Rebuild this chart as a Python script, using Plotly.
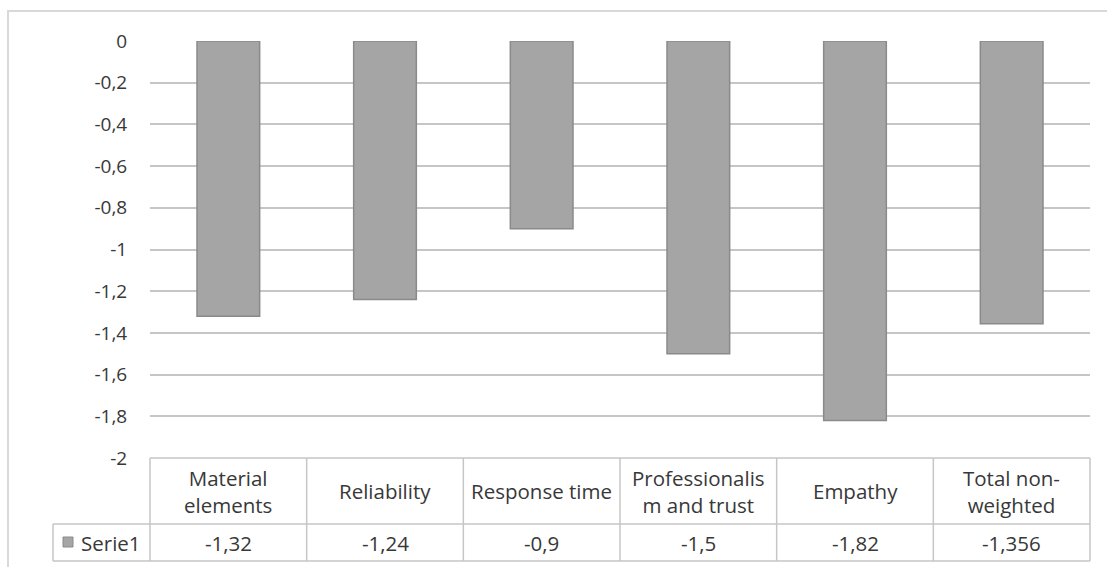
import plotly.graph_objects as go

categories = ["Material elements", "Reliability", "Response time",
              "Professionalism and trust", "Empathy", "Total non-weighted"]
header_labels = ["Material<br>elements", "Reliability", "Response time",
                 "Professionalis<br>m and trust", "Empathy", "Total non-<br>weighted"]
series_name = "Serie1"
values = [-1.32, -1.24, -0.9, -1.5, -1.82, -1.356]
value_labels = ["-1,32", "-1,24", "-0,9", "-1,5", "-1,82", "-1,356"]
tick_vals = [0, -0.2, -0.4, -0.6, -0.8, -1, -1.2, -1.4, -1.6, -1.8, -2]
tick_text = ["0", "-0,2", "-0,4", "-0,6", "-0,8", "-1", "-1,2", "-1,4", "-1,6", "-1,8", "-2"]

W, H = 1107, 567
L, R, T, B = 150, 1090, 41, 458
FONT = "Open Sans"
TXT = "#383838"
LINE = "#c6c6c6"
TICK_SIZE = 19
TABLE_SIZE = 20.5

def px(xp):
    return (xp - L) / (R - L)

def py(yp):
    return (B - yp) / (B - T)

fig = go.Figure()
fig.add_trace(go.Bar(
    x=categories, y=values, name=series_name,
    marker=dict(color="#a5a5a5", line=dict(color="#8a8a8a", width=1.5)),
    showlegend=False,
))

shapes = []
# outer chart border
shapes.append(dict(type="rect", xref="paper", yref="paper",
                   x0=px(8), x1=px(1120), y0=py(600), y1=py(11),
                   line=dict(color="#d9d9d9", width=2), layer="below"))
# table horizontal lines
row1, row2 = 524, 561
for yy, x0 in [(B, L), (row1, 53), (row2, 53)]:
    shapes.append(dict(type="line", xref="paper", yref="paper",
                       x0=px(x0), x1=px(R), y0=py(yy), y1=py(yy),
                       line=dict(color=LINE, width=1.5)))
# vertical lines
n = len(categories)
for i in range(n + 1):
    xx = L + (R - L) * i / n
    shapes.append(dict(type="line", xref="paper", yref="paper",
                       x0=px(xx), x1=px(xx), y0=py(B), y1=py(row2),
                       line=dict(color=LINE, width=1.5)))
shapes.append(dict(type="line", xref="paper", yref="paper",
                   x0=px(53), x1=px(53), y0=py(row1), y1=py(row2),
                   line=dict(color=LINE, width=1.5)))
# legend key
shapes.append(dict(type="rect", xref="paper", yref="paper",
                   x0=px(63), x1=px(73), y0=py(547), y1=py(537),
                   fillcolor="#a5a5a5", line=dict(color="#8a8a8a", width=1)))

annotations = []
for cat, hl, vl in zip(categories, header_labels, value_labels):
    annotations.append(dict(x=cat, xref="x", y=py((B + row1) / 2), yref="paper",
                            text=hl, showarrow=False, xanchor="center", yanchor="middle",
                            font=dict(family=FONT, size=TABLE_SIZE, color=TXT)))
    annotations.append(dict(x=cat, xref="x", y=py((row1 + row2) / 2), yref="paper",
                            text=vl, showarrow=False, xanchor="center", yanchor="middle",
                            font=dict(family=FONT, size=TABLE_SIZE, color=TXT)))
annotations.append(dict(x=px(79), xref="paper", y=py((row1 + row2) / 2), yref="paper",
                        text=series_name, showarrow=False, xanchor="left", yanchor="middle",
                        font=dict(family=FONT, size=TABLE_SIZE, color=TXT)))

fig.update_layout(
    width=W, height=H,
    margin=dict(l=L, r=W - R, t=T, b=H - B, pad=0),
    plot_bgcolor="white", paper_bgcolor="white",
    bargap=0.6,
    font=dict(family=FONT, size=TICK_SIZE, color=TXT),
    xaxis=dict(showticklabels=False, showgrid=False, showline=False, zeroline=False,
               ticks=""),
    yaxis=dict(range=[-2, 0], tickvals=tick_vals, ticktext=tick_text,
               showgrid=True, gridcolor=LINE, gridwidth=1.5, zeroline=False,
               showline=False, ticks="outside", ticklen=18, tickcolor="rgba(0,0,0,0)",
               tickfont=dict(family=FONT, size=TICK_SIZE, color=TXT)),
    shapes=shapes, annotations=annotations,
)

fig.write_html("out.html", config={"displayModeBar": False},
               post_script="document.body.style.margin='0px';")
